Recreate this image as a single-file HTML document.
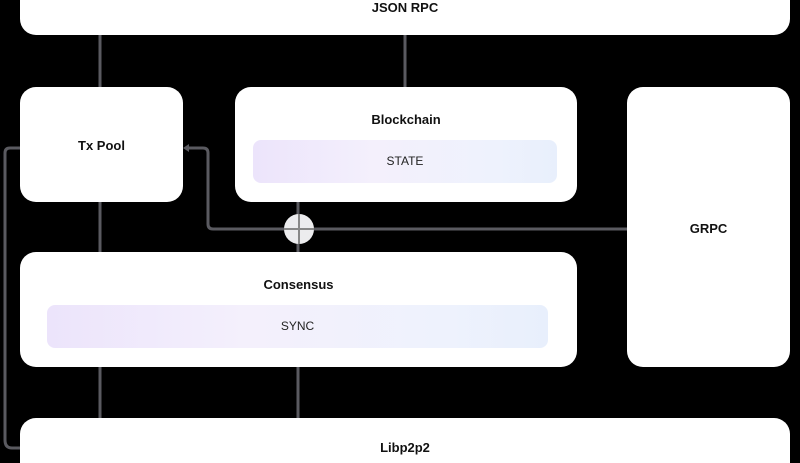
<!DOCTYPE html>
<html><head><style>
html,body{margin:0;width:800px;height:463px;overflow:hidden}
body{background:#000;position:relative;font-family:"Liberation Sans",Arial,sans-serif}
.b{position:absolute;background:#fff;border-radius:16px}
.t{position:absolute;width:100%;text-align:center;font-weight:bold;font-size:13px;color:#111}
.bar{position:absolute;border-radius:8px;background:linear-gradient(90deg,#ece4fb,#f4f0fc 40%,#eef2fd 80%,#e8effc);text-align:center;font-size:12px;color:#222}
</style></head><body>
<svg width="800" height="463" style="position:absolute;left:0;top:0">
<g stroke="#5a5a60" stroke-width="3" fill="none">
<line x1="100" y1="35" x2="100" y2="87"/>
<line x1="405" y1="35" x2="405" y2="87"/>
<line x1="100" y1="202" x2="100" y2="252"/>
<line x1="298" y1="202" x2="298" y2="252"/>
<line x1="100" y1="367" x2="100" y2="418"/>
<line x1="298" y1="367" x2="298" y2="418"/>
<path d="M20 148 H10 Q5 148 5 153 V440 Q5 448 12 448 H20"/>
<path d="M186 148 H203 Q208 148 208 153 V224 Q208 229 213 229 H627"/>
</g>
<path d="M183 148 l6 -4 v8 z" fill="#5a5a60"/>
<circle cx="299" cy="229" r="15" fill="#ececee"/>
<line x1="284" y1="229" x2="314" y2="229" stroke="#888" stroke-width="2"/>
<line x1="299" y1="214" x2="299" y2="244" stroke="#888" stroke-width="2"/>
</svg>
<div class="b" style="left:20px;top:-20px;width:770px;height:55px"><div class="t" style="top:20px">JSON RPC</div></div>
<div class="b" style="left:20px;top:87px;width:163px;height:115px"><div class="t" style="top:51px">Tx Pool</div></div>
<div class="b" style="left:235px;top:87px;width:342px;height:115px"><div class="t" style="top:25px">Blockchain</div>
<div class="bar" style="left:18px;top:53px;width:304px;height:43px;line-height:43px">STATE</div></div>
<div class="b" style="left:627px;top:87px;width:163px;height:280px"><div class="t" style="top:134px">GRPC</div></div>
<div class="b" style="left:20px;top:252px;width:557px;height:115px"><div class="t" style="top:25px">Consensus</div>
<div class="bar" style="left:27px;top:53px;width:501px;height:43px;line-height:43px">SYNC</div></div>
<div class="b" style="left:20px;top:418px;width:770px;height:45px;border-radius:16px 16px 0 0"><div class="t" style="top:22px">Libp2p2</div></div>
</body></html>
